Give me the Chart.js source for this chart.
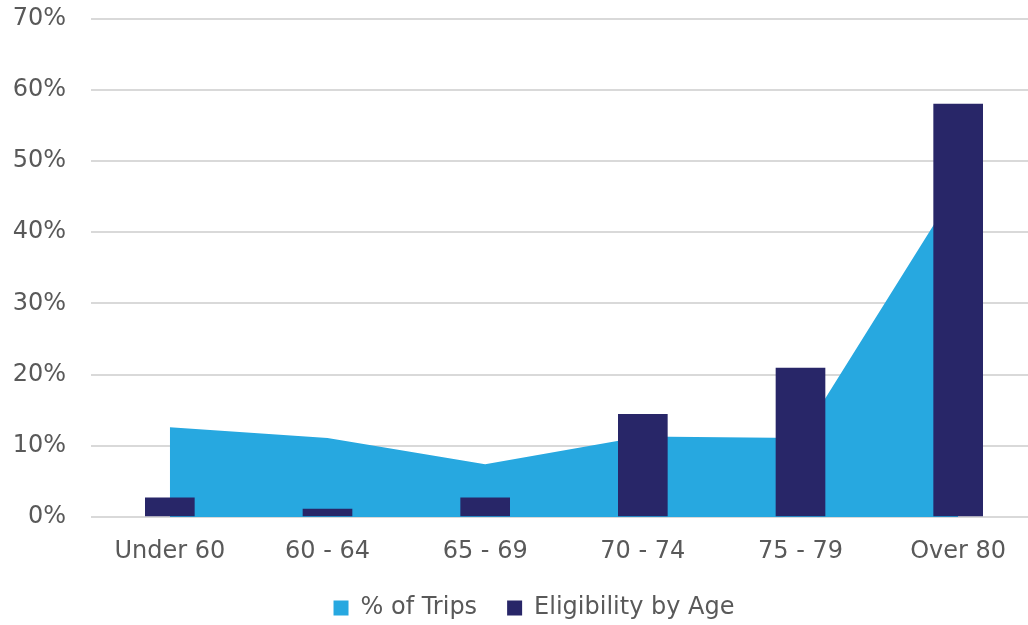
<!DOCTYPE html>
<html>
<head>
<meta charset="utf-8">
<script src="https://cdn.jsdelivr.net/npm/chart.js@4/dist/chart.umd.min.js"></script>
<style>
  html, body { margin: 0; padding: 0; background: #ffffff; overflow: hidden; }
  #wrap { width: 1037px; height: 625px; position: relative; }
</style>
</head>
<body>
<div id="wrap"><canvas id="chart"></canvas></div>
<script>
// Age groups along the x axis
const categories = ['Under 60', '60 - 64', '65 - 69', '70 - 74', '75 - 79', 'Over 80'];
// Share of trips by age group (%)
const tripsShare = [12.6, 11.1, 7.4, 11.3, 11.1, 46.5];
// Eligibility by age group (%)
const eligibility = [2.7, 1.1, 2.7, 14.4, 20.9, 58.0];
// Y axis ticks (%)
const yTicks = [0, 10, 20, 30, 40, 50, 60, 70];

const FONT = "'Century Gothic', 'DejaVu Sans', sans-serif";
const TEXT = '#595959';

// Nudge the legend slightly left of the plot centre and a little lower
const legendShift = {
  id: 'legendShift',
  afterLayout(chart) {
    const lg = chart.legend;
    if (!lg) return;
    const dx = ((chart.chartArea.left + chart.chartArea.right) / 2 - 30) - (lg.left + lg.right) / 2;
    lg.left += dx; lg.right += dx;
    lg.top += 5; lg.bottom += 5;
  }
};

new Chart(document.getElementById('chart'), {
  data: {
    labels: categories,
    datasets: [
      {
        type: 'line',
        label: '% of Trips',
        data: tripsShare,
        fill: 'origin',
        backgroundColor: '#27a8e0',
        borderColor: '#27a8e0',
        borderWidth: 0,
        pointRadius: 0,
        tension: 0,
        order: 2
      },
      {
        type: 'bar',
        label: 'Eligibility by Age',
        data: eligibility,
        backgroundColor: '#282668',
        borderWidth: 0,
        barThickness: 49,
        order: 1
      }
    ]
  },
  options: {
    responsive: true,
    maintainAspectRatio: false,
    animation: false,
    devicePixelRatio: 1,
    layout: { padding: { left: 0, right: 0, top: 18.5, bottom: 0 } },
    scales: {
      x: {
        offset: true,
        grid: { display: false, drawTicks: false },
        border: { display: false },
        ticks: { color: TEXT, font: { family: FONT, size: 24 }, padding: 20, maxRotation: 0 },
        afterFit: (s) => { s.height = 44; }
      },
      y: {
        min: 0,
        max: 70,
        afterBuildTicks: (s) => { s.ticks = yTicks.map(v => ({ value: v })); },
        grid: { color: '#d9d9d9', lineWidth: 2, drawTicks: false },
        border: { display: false },
        ticks: {
          color: TEXT,
          font: { family: FONT, size: 24 },
          padding: 25,
          callback: (v) => v + '%'
        },
        afterFit: (s) => { s.width = 91; s.paddingTop = 0; }
      }
    },
    plugins: {
      legend: {
        position: 'bottom',
        labels: {
          color: TEXT,
          font: { family: FONT, size: 24 },
          boxWidth: 15,
          boxHeight: 15,
          padding: 30,
          sort: (a, b) => a.datasetIndex - b.datasetIndex
        }
      },
      tooltip: { enabled: false }
    }
  },
  plugins: [legendShift]
});
</script>
</body>
</html>
